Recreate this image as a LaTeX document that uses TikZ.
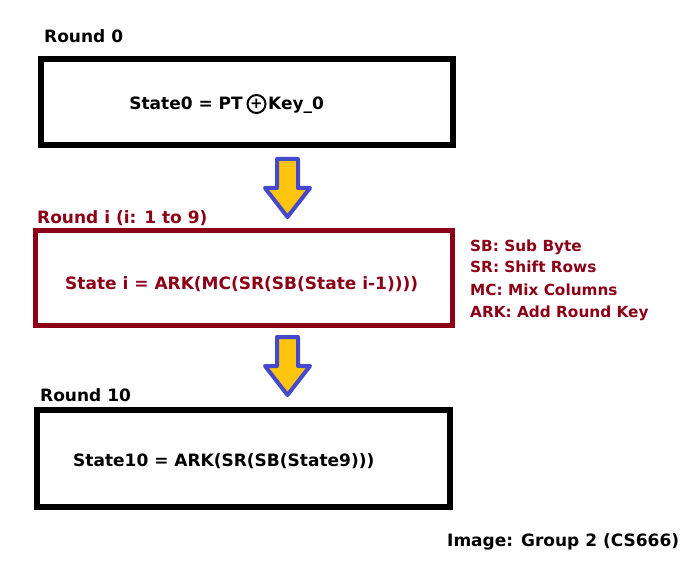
\documentclass[tikz,border=0pt]{standalone}
\usepackage{fontspec}
\setmainfont{DejaVu Sans}
\definecolor{maroon}{RGB}{139,0,23}
\definecolor{arrowblue}{RGB}{68,72,204}
\definecolor{arrowgold}{RGB}{255,196,14}
\begin{document}
\begin{tikzpicture}[x=1pt,y=-1pt,
  box/.style={draw, rectangle, line width=5.5pt, inner sep=0pt},
  txt/.style={anchor=base west, inner sep=0pt, font=\fontsize{17}{20}\selectfont\bfseries},
  leg/.style={txt, text=maroon, font=\fontsize{15.3}{18}\selectfont\bfseries},
  blockarrow/.style={draw=arrowblue, fill=arrowgold, line width=4pt, line join=round}]
\useasboundingbox (0,0) rectangle (698,561);
% boxes
\node[box, minimum width=412pt, minimum height=86pt] (b0) at (247,102) {};
\node[box, draw=maroon, line width=5pt, minimum width=417pt, minimum height=94pt] (b1) at (243.5,278) {};
\node[box, minimum width=413pt, minimum height=97pt] (b2) at (243.5,458.5) {};
% labels
\node[txt] (l0) at (44,42.7) {Round 0};
\node[txt, text=maroon] (l1) at (37,223.3) {Round i (i: 1 to 9)};
\node[txt] (l2) at (40,401.7) {Round 10};
% contents
\node[txt, anchor=base east] (t0a) at (243,110) {State0 = PT};
\node[circle, draw, line width=2pt, minimum size=18pt, inner sep=0pt, font=\fontsize{15}{15}\selectfont\bfseries] (op) at (256.5,104) {+};
\node[txt] (t0b) at (268,110) {Key\_0};
\node[txt, text=maroon] (t1) at (65,289.3) {State i = ARK(MC(SR(SB(State i-1))))};
\node[txt] (t2) at (73,466) {State10 = ARK(SR(SB(State9)))};
% legend
\node[leg] (g1) at (470,251.7) {SB: Sub Byte};
\node[leg] (g2) at (470,272.7) {SR: Shift Rows};
\node[leg] (g3) at (470,295) {MC: Mix Columns};
\node[leg] (g4) at (470,317) {ARK: Add Round Key};
% footer
\node[txt] (f) at (447,546.7) {Image: Group 2 (CS666)};
% block arrows
\draw[blockarrow] (277,159) -- (298,159) -- (298,188) -- (310,188) -- (287.5,217) -- (265,188) -- (277,188) -- cycle;
\draw[blockarrow] (277,337) -- (298,337) -- (298,366) -- (310,366) -- (287.5,395) -- (265,366) -- (277,366) -- cycle;
\end{tikzpicture}
\end{document}
